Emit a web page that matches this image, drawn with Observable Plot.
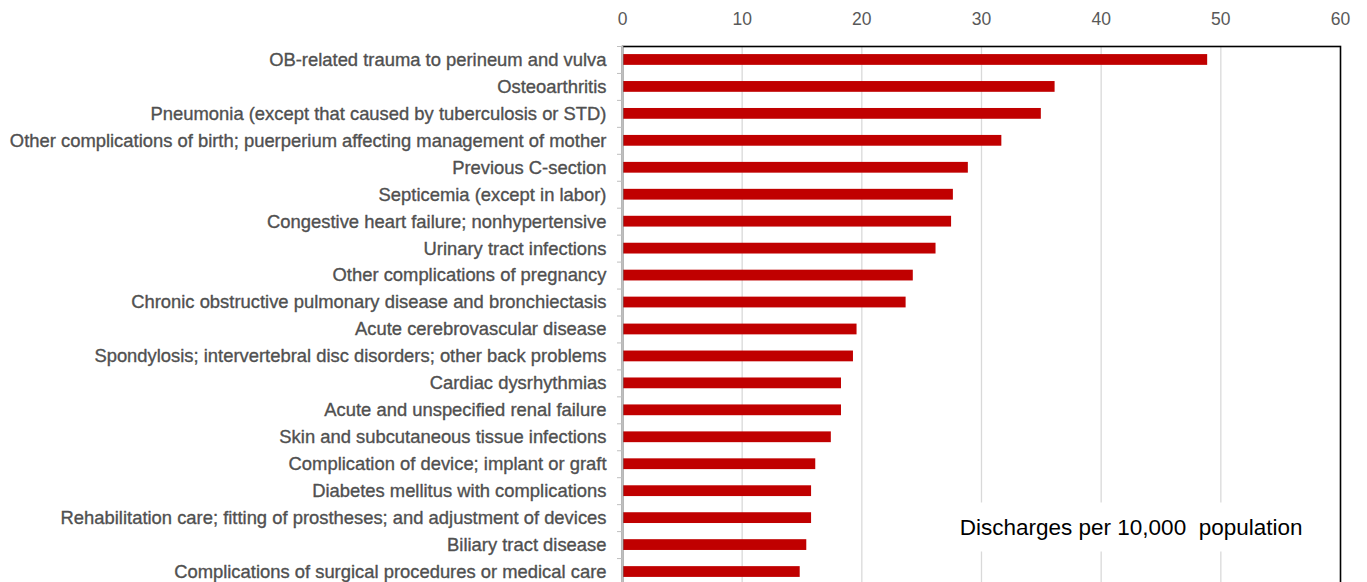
<!DOCTYPE html>
<html><head><meta charset="utf-8">
<script src="https://cdn.jsdelivr.net/npm/d3@7"></script>
<script src="https://cdn.jsdelivr.net/npm/@observablehq/plot@0.6"></script>
<style>html,body{margin:0;padding:0;background:#fff;overflow:hidden;}</style>
</head><body><div id="chart"></div>
<script>
const categories = [
  "OB-related trauma to perineum and vulva",
  "Osteoarthritis",
  "Pneumonia (except that caused by tuberculosis or STD)",
  "Other complications of birth; puerperium affecting management of mother",
  "Previous C-section",
  "Septicemia (except in labor)",
  "Congestive heart failure; nonhypertensive",
  "Urinary tract infections",
  "Other complications of pregnancy",
  "Chronic obstructive pulmonary disease and bronchiectasis",
  "Acute cerebrovascular disease",
  "Spondylosis; intervertebral disc disorders; other back problems",
  "Cardiac dysrhythmias",
  "Acute and unspecified renal failure",
  "Skin and subcutaneous tissue infections",
  "Complication of device; implant or graft",
  "Diabetes mellitus with complications",
  "Rehabilitation care; fitting of prostheses; and adjustment of devices",
  "Biliary tract disease",
  "Complications of surgical procedures or medical care"
];
const values = [48.9, 36.15, 35.0, 31.7, 28.9, 27.65, 27.5, 26.2, 24.3, 23.7, 19.6, 19.3, 18.3, 18.3, 17.45, 16.15, 15.8, 15.8, 15.4, 14.85];
const xTicks = [0, 10, 20, 30, 40, 50, 60];
const gridTicks = [10, 20, 30, 40, 50];
const annotation = ["Discharges per 10,000  population"];

const data = categories.map((c, i) => ({category: c, value: values[i]}));

const chart = Plot.plot({
  width: 1367, height: 585,
  marginLeft: 622, marginRight: 27, marginTop: 46, marginBottom: 0,
  style: {fontFamily: "'Liberation Sans', Arial, sans-serif", background: "white", overflow: "visible"},
  x: {domain: [0, 60], ticks: xTicks},
  y: {domain: categories, paddingInner: 0.6, paddingOuter: 0.3, round: false},
  marks: [
    Plot.gridX(gridTicks, {stroke: "#d9d9d9", strokeOpacity: 1, strokeWidth: 1.3}),
    Plot.barX(data, {x: "value", y: "category", fill: "#C00000"}),
    Plot.frame({stroke: "black", strokeWidth: 1.6}),
    Plot.ruleX([0], {stroke: "#bfbfbf", strokeWidth: 1.6}),
    Plot.axisX({anchor: "top", ticks: xTicks, tickSize: 0, tickPadding: 22, fontSize: 17.5, color: "#595959", label: null}),
    Plot.axisY({tickSize: 0, tickPadding: 16, fontSize: 18.4, color: "#505050", textStroke: "#505050", textStrokeWidth: 0.35, label: null}),
    Plot.axisY({tickSize: 5, tickFormat: () => "", dy: -13.475, stroke: "#bfbfbf", label: null}),
    Plot.text(annotation, {frameAnchor: "bottom-right", dx: -38, dy: -51, textAnchor: "end", fontSize: 22.5, fill: "black"})
  ]
});
document.getElementById("chart").appendChild(chart);

// white box behind the annotation text
d3.select(chart).selectAll("text").each(function() {
  if (this.textContent === annotation[0]) {
    const b = this.getBBox();
    const r = document.createElementNS("http://www.w3.org/2000/svg", "rect");
    r.setAttribute("x", b.x - 18);
    r.setAttribute("y", b.y - 12);
    r.setAttribute("width", b.width + 36);
    r.setAttribute("height", b.height + 24);
    r.setAttribute("fill", "white");
    const t = this.getAttribute("transform");
    if (t) r.setAttribute("transform", t);
    this.parentNode.insertBefore(r, this);
  }
});
</script>
</body></html>
